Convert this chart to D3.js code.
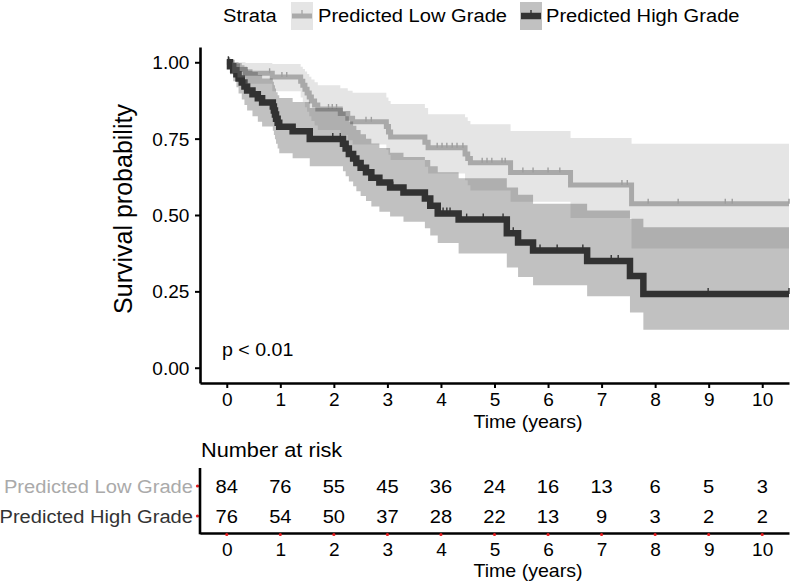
<!DOCTYPE html>
<html><head><meta charset="utf-8">
<script src="https://cdn.jsdelivr.net/npm/d3@7"></script>
<style>
html,body{margin:0;padding:0;background:#fff;}
svg{display:block;font-family:"Liberation Sans",Arial,sans-serif;}
</style></head>
<body>
<svg id="chart" width="800" height="583"></svg>
<script>
// ---------------- DATA ----------------
const strata = ["Predicted Low Grade", "Predicted High Grade"];

const lowTimes  = [0, 0.1, 0.2, 0.35, 0.85, 1.38, 1.42, 1.46, 1.5, 1.54, 1.58, 1.64, 1.7, 2.12, 2.26, 2.35, 2.98, 3.02, 3.06, 3.7, 3.76, 4.45, 4.5, 4.55, 5.3, 6.42, 7.56];
const lowSurv   = [1, 0.988, 0.976, 0.964, 0.952, 0.938, 0.925, 0.912, 0.899, 0.886, 0.873, 0.86, 0.847, 0.832, 0.817, 0.805, 0.79, 0.772, 0.755, 0.738, 0.72, 0.70, 0.685, 0.671, 0.639, 0.598, 0.537];
const lowLower  = [1, 0.965, 0.95, 0.93, 0.905, 0.885, 0.87, 0.853, 0.838, 0.823, 0.808, 0.793, 0.778, 0.762, 0.745, 0.731, 0.714, 0.697, 0.68, 0.658, 0.636, 0.614, 0.597, 0.58, 0.543, 0.49, 0.39];
const lowUpper  = [1, 1, 1, 0.998, 0.994, 0.985, 0.978, 0.97, 0.962, 0.953, 0.944, 0.935, 0.925, 0.915, 0.907, 0.9, 0.885, 0.873, 0.863, 0.85, 0.83, 0.82, 0.808, 0.797, 0.775, 0.752, 0.733];
const lowCensor = [0.05, 0.1, 0.8, 1.03, 1.12, 1.9, 1.97, 2.05, 2.6, 2.7, 3.93, 4.02, 4.11, 4.21, 4.3, 4.41, 4.77, 4.86, 4.95, 5.14, 5.2, 5.53, 5.72, 6.0, 6.22, 7.38, 7.48, 7.87, 8.43, 9.31, 9.44, 10.5];

const highTimes  = [0, 0.06, 0.12, 0.18, 0.22, 0.28, 0.33, 0.38, 0.48, 0.58, 0.66, 0.86, 0.88, 0.90, 0.92, 0.95, 0.98, 1.23, 1.55, 2.17, 2.22, 2.28, 2.36, 2.42, 2.5, 2.6, 2.7, 2.85, 3.05, 3.3, 3.7, 3.8, 3.94, 4.33, 5.23, 5.44, 5.72, 6.73, 7.53, 7.78];
const highSurv   = [1, 0.987, 0.974, 0.961, 0.947, 0.934, 0.921, 0.908, 0.895, 0.882, 0.868, 0.855, 0.842, 0.829, 0.815, 0.802, 0.789, 0.774, 0.749, 0.733, 0.718, 0.70, 0.685, 0.67, 0.655, 0.64, 0.622, 0.606, 0.59, 0.574, 0.554, 0.53, 0.505, 0.485, 0.44, 0.41, 0.384, 0.349, 0.30, 0.241];
const highLower  = [1, 0.961, 0.938, 0.918, 0.898, 0.878, 0.86, 0.842, 0.823, 0.805, 0.79, 0.776, 0.762, 0.748, 0.733, 0.718, 0.702, 0.686, 0.66, 0.643, 0.627, 0.61, 0.594, 0.578, 0.562, 0.546, 0.528, 0.511, 0.495, 0.478, 0.457, 0.433, 0.408, 0.374, 0.328, 0.297, 0.27, 0.234, 0.181, 0.124];
const highUpper  = [1, 1, 1, 1, 0.998, 0.99, 0.985, 0.977, 0.968, 0.958, 0.947, 0.936, 0.925, 0.914, 0.902, 0.892, 0.883, 0.87, 0.85, 0.837, 0.823, 0.806, 0.792, 0.778, 0.764, 0.75, 0.734, 0.719, 0.704, 0.69, 0.68, 0.66, 0.64, 0.62, 0.59, 0.566, 0.537, 0.515, 0.488, 0.46];
const highCensor = [0.03, 0.1, 1.98, 2.12, 3.1, 4.04, 4.11, 4.17, 4.48, 4.79, 5.16, 5.35, 5.85, 6.17, 6.65, 7.18, 7.31, 8.99, 10.5];

const riskTimes = [0, 1, 2, 3, 4, 5, 6, 7, 8, 9, 10];
const lowRisk   = [84, 76, 55, 45, 36, 24, 16, 13, 6, 5, 3];
const highRisk  = [76, 54, 50, 37, 28, 22, 13, 9, 3, 2, 2];
const yTicks    = [0, 0.25, 0.5, 0.75, 1];
const pLabel    = "p < 0.01";

// ---------------- SETUP ----------------
const lowColor = "#aaaaaa", highColor = "#333333";
const SX = 1.06;
const svg = d3.select("#chart");
const endT = 10.5;

const x = d3.scaleLinear().domain([-0.5, 10.5]).range([200, 789]);
const y = d3.scaleLinear().domain([-0.05, 1.05]).range([383, 47]);

function txt(g, px, py, s, size, anchor, color) {
  return g.append("text")
    .attr("transform", `translate(${px},${py}) scale(${SX},1)`)
    .attr("text-anchor", anchor || "start")
    .attr("font-size", size)
    .attr("fill", color || "#000")
    .text(s);
}

function makeSeries(times, surv, lo, hi) {
  const pts = times.map((t, i) => ({t, s: surv[i], lo: lo[i], hi: hi[i]}));
  const last = pts[pts.length - 1];
  pts.push({t: endT, s: last.s, lo: last.lo, hi: last.hi});
  return pts;
}
const lowSeries = makeSeries(lowTimes, lowSurv, lowLower, lowUpper);
const highSeries = makeSeries(highTimes, highSurv, highLower, highUpper);

function survAt(times, surv, t) {
  const i = d3.bisectRight(times, t) - 1;
  return surv[Math.max(0, i)];
}

const line = d3.line().curve(d3.curveStepAfter).x(d => x(d.t)).y(d => y(d.s));
const area = d3.area().curve(d3.curveStepAfter).x(d => x(d.t)).y0(d => y(d.lo)).y1(d => y(d.hi));

const plot = svg.append("g");

// lines
plot.append("path").datum(lowSeries).attr("d", line)
  .attr("fill", "none").attr("stroke", lowColor).attr("stroke-width", 5);
plot.selectAll(".lc").data(lowCensor).enter().append("line")
  .attr("x1", d => x(d)).attr("x2", d => x(d))
  .attr("y1", d => y(survAt(lowTimes, lowSurv, d)) - 5)
  .attr("y2", d => y(survAt(lowTimes, lowSurv, d)))
  .attr("stroke", "#999").attr("stroke-width", 1.4);

plot.append("path").datum(highSeries).attr("d", line)
  .attr("fill", "none").attr("stroke", highColor).attr("stroke-width", 6.5);
plot.selectAll(".hc").data(highCensor).enter().append("line")
  .attr("x1", d => x(d)).attr("x2", d => x(d))
  .attr("y1", d => y(survAt(highTimes, highSurv, d)) - 6)
  .attr("y2", d => y(survAt(highTimes, highSurv, d)))
  .attr("stroke", highColor).attr("stroke-width", 1.4);

// ribbons on top (as in the reference)
plot.append("path").datum(lowSeries).attr("d", area)
  .attr("fill", lowColor).attr("fill-opacity", 0.3);
plot.append("path").datum(highSeries).attr("d", area)
  .attr("fill", highColor).attr("fill-opacity", 0.3);

// axes
const xAxis = svg.append("g").attr("transform", "translate(0,383)")
  .call(d3.axisBottom(x).tickValues(riskTimes).tickSize(5).tickSizeOuter(0).tickFormat(d3.format("d")));
const yAxis = svg.append("g").attr("transform", "translate(200,0)")
  .call(d3.axisLeft(y).tickValues(yTicks).tickSize(5).tickSizeOuter(0).tickFormat(d3.format(".2f")));
[xAxis, yAxis].forEach(a => {
  a.select(".domain").attr("stroke", "#000").attr("stroke-width", 2.6);
  a.selectAll(".tick line").attr("stroke", "#000").attr("stroke-width", 2);
  a.selectAll(".tick text").attr("font-size", 18).attr("fill", "#000")
    .attr("font-family", "Liberation Sans, Arial, sans-serif")
    .attr("transform", `scale(${SX},1)`);
});
xAxis.selectAll(".tick text").attr("y", 23).attr("dy", 0);
yAxis.selectAll(".tick text").attr("x", -10).attr("dy", "0.36em");

// titles
txt(svg, 528, 428, "Time (years)", 18.5, "middle");
svg.append("text").attr("transform", "translate(132,209) rotate(-90)")
  .attr("text-anchor", "middle").attr("font-size", 25).attr("fill", "#000")
  .text("Survival probability");
txt(svg, 222, 356, pLabel, 18.5, "start");

// legend
txt(svg, 223, 22, "Strata", 19, "start");
const legItems = [
  {label: strata[0], color: lowColor, kx: 291, tx: 318, w: 5},
  {label: strata[1], color: highColor, kx: 520, tx: 546, w: 6.5}
];
legItems.forEach(it => {
  svg.append("rect").attr("x", it.kx).attr("y", 2).attr("width", 22).attr("height", 28)
    .attr("fill", it.color).attr("fill-opacity", 0.3);
  svg.append("line").attr("x1", it.kx + 1).attr("x2", it.kx + 21).attr("y1", 16).attr("y2", 16)
    .attr("stroke", it.color).attr("stroke-width", it.w);
  svg.append("line").attr("x1", it.kx + 11).attr("x2", it.kx + 11).attr("y1", 10).attr("y2", 16)
    .attr("stroke", it.color).attr("stroke-width", 1.4);
  txt(svg, it.tx, 22, it.label, 19, "start");
});

// ---------------- RISK TABLE ----------------
const risk = svg.append("g");
txt(risk, 201, 457, "Number at risk", 20.5, "start");
const rows = [
  {label: strata[0], vals: lowRisk, cy: 486, color: lowColor},
  {label: strata[1], vals: highRisk, cy: 516, color: highColor}
];
rows.forEach(r => {
  txt(risk, 193, r.cy + 6.5, r.label, 19, "end", r.color);
  risk.selectAll(null).data(riskTimes).enter().append("text")
    .attr("transform", (d) => `translate(${x(d)},${r.cy + 6.5}) scale(${SX},1)`)
    .attr("text-anchor", "middle").attr("font-size", 19).attr("fill", "#000")
    .text((d, i) => r.vals[i]);
  risk.append("circle").attr("cx", 197.5).attr("cy", r.cy).attr("r", 1.6).attr("fill", "#e41a1c");
});
risk.append("line").attr("x1", 200).attr("x2", 200).attr("y1", 468).attr("y2", 534.3)
  .attr("stroke", "#000").attr("stroke-width", 2.6);
const rAxis = risk.append("g").attr("transform", "translate(0,533)")
  .call(d3.axisBottom(x).tickValues(riskTimes).tickSize(0).tickSizeOuter(0).tickFormat(d3.format("d")));
rAxis.select(".domain").attr("stroke", "#000").attr("stroke-width", 2.6);
rAxis.selectAll(".tick text").attr("font-size", 18).attr("fill", "#000")
  .attr("font-family", "Liberation Sans, Arial, sans-serif")
  .attr("y", 23).attr("dy", 0).attr("transform", `scale(${SX},1)`);
risk.selectAll(".rd").data(riskTimes).enter().append("circle")
  .attr("cx", d => x(d)).attr("cy", 534.5).attr("r", 1.6).attr("fill", "#e41a1c");
txt(risk, 528, 577, "Time (years)", 18.5, "middle");
</script>
</body></html>
